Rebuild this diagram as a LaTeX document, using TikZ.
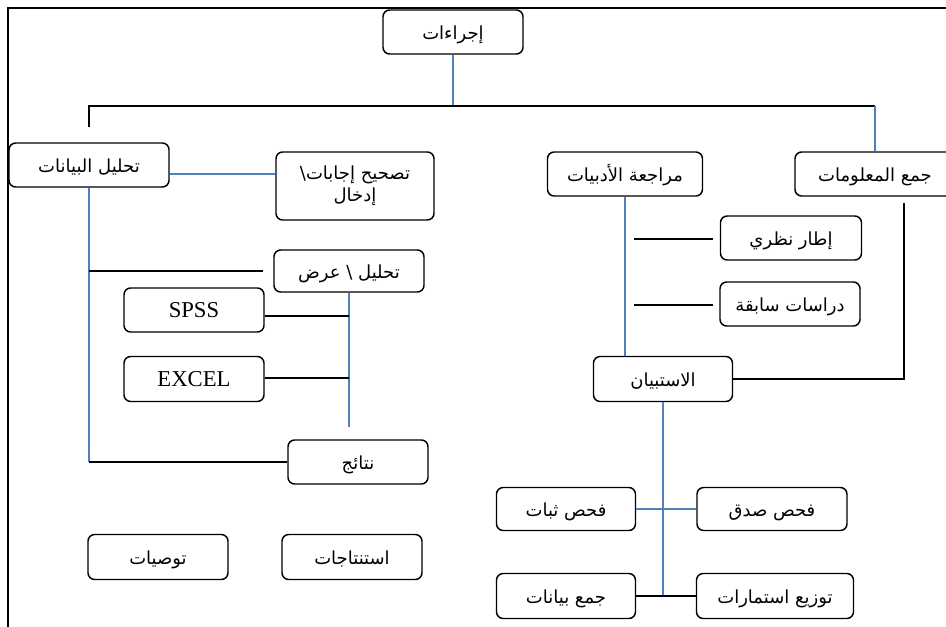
\documentclass[tikz,border=0pt]{standalone}
\usepackage{fontspec}
\setmainfont{Liberation Serif}
\newfontfamily\arabicfont[Script=Arabic]{DejaVu Sans}
\TeXXeTstate=1
\usepackage{xcolor}
\usepackage{tikz}
\usetikzlibrary{positioning,calc}
\definecolor{linkblue}{RGB}{79,129,189}
\newcommand{\artxt}[1]{\beginR #1\endR}
\tikzset{
  % --- boxes -------------------------------------------------------------
  box/.style={draw,rounded corners=5pt,line width=1.1pt,fill=white,
              minimum height=33pt,inner sep=2pt},
  stage/.style={box,font=\arabicfont\fontsize{13.5}{17}\selectfont,
                text height=13pt,text depth=2pt},
  twoline/.style={box,align=center,
                  font=\arabicfont\fontsize{13.5}{17}\selectfont},
  tool/.style={box,font=\fontsize{17}{20}\selectfont},
  wd/.style={minimum width=#1*0.75pt},
  ht/.style={minimum height=#1*0.75pt},
  % --- connectors ----------------------------------------------------------
  bl/.style={linkblue,line width=1.1pt},
  bk/.style={black,line width=1.1pt},
  frame/.style={black,line width=1.5pt},
}
\begin{document}
\begin{tikzpicture}[x=0.75pt,y=-0.75pt]
  \useasboundingbox (0,0) rectangle (946,626);
  \draw[frame] (8,640) -- (8,8) -- (960,8);

  % --- top of the tree ------------------------------------------------------
  \node[stage,wd=140] (proc) at (453,32) {\artxt{إجراءات}};
  \node[stage,wd=160] (analysis) at (89,165) {\artxt{تحليل البيانات}};
  \node[stage,wd=155] (litrev) at (625,174) {\artxt{مراجعة الأدبيات}};
  \node[stage,wd=160] (collect) at (875,174) {\artxt{جمع المعلومات}};

  % --- data analysis branch ------------------------------------------------
  \node[twoline,wd=158,ht=68] (correct) at (355,186)
    {\artxt{تصحيح إجابات\textbackslash}\\\artxt{إدخال}};
  \node[stage,wd=150,ht=42] (present) at (349,271) {\artxt{تحليل \textbackslash\ عرض}};
  \node[tool,wd=140] (spss) at (194,310) {SPSS};
  \node[tool,wd=140,ht=45] (excel) at (194,379) {EXCEL};
  \node[stage,wd=140] (results) at (358,462) {\artxt{نتائج}};
  \node[stage,wd=140,ht=45] (recom) at (158,557) {\artxt{توصيات}};
  \node[stage,wd=140,ht=45] (concl) at (352,557) {\artxt{استنتاجات}};

  % --- literature / questionnaire branch -----------------------------------
  \node[stage,wd=141] (theory) at (791,238) {\artxt{إطار نظري}};
  \node[stage,wd=140] (prior) at (790,304) {\artxt{دراسات سابقة}};
  \node[stage,wd=139,ht=45] (quest) at (663,379) {\artxt{الاستبيان}};
  \node[stage,wd=139,ht=43] (reliab) at (566,509) {\artxt{فحص ثبات}};
  \node[stage,wd=150,ht=43] (valid) at (772,509) {\artxt{فحص صدق}};
  \node[stage,wd=139,ht=45] (gather) at (566,596) {\artxt{جمع بيانات}};
  \node[stage,wd=157,ht=45] (distrib) at (775,596) {\artxt{توزيع استمارات}};

  % --- free ends -----------------------------------------------------------
  \coordinate (busL) at (89,106);
  \coordinate (busR) at (875,106);
  \coordinate (dropL) at (89,127);
  \coordinate (presEnd) at (349,427);
  \coordinate (questEnd) at (663,595);
  \coordinate (collTop) at (904,203);
  \coordinate (collBot) at (904,379);
  \coordinate (thA) at (634,239);
  \coordinate (thB) at (713,239);
  \coordinate (prA) at (634,305);
  \coordinate (prB) at (713,305);

  % --- connectors ----------------------------------------------------------
  \draw[bl] (proc.south) -- (proc.south |- busL);
  \draw[bk] (dropL) -- (busL) -- (busR);
  \draw[bl] (busR) -- (busR |- collect.north);

  \draw[bl] (analysis.east |- 0,174) -- (correct.west |- 0,174);
  \draw[bl] (analysis.south) -- (analysis.south |- results.west);
  \draw[bk] (analysis.south |- results.west) -- (results.west);
  \draw[bk] (analysis.south |- present.west) -- ([xshift=-7.5pt]present.west);
  \draw[bl] (present.south) -- (presEnd);
  \draw[bk] (spss.east |- 0,316) -- (presEnd |- 0,316);
  \draw[bk] (excel.east |- 0,378) -- (presEnd |- 0,378);

  \draw[bl] (litrev.south) -- (litrev.south |- quest.north);
  \draw[bk] (thA) -- (thB);
  \draw[bk] (prA) -- (prB);
  \draw[bk] (collTop) -- (collBot) -- (quest.east |- collBot);

  \draw[bl] (quest.south) -- (questEnd);
  \draw[bl] (reliab.east) -- (valid.west);
  \draw[bk] (gather.east) -- (distrib.west);
\end{tikzpicture}
\end{document}
